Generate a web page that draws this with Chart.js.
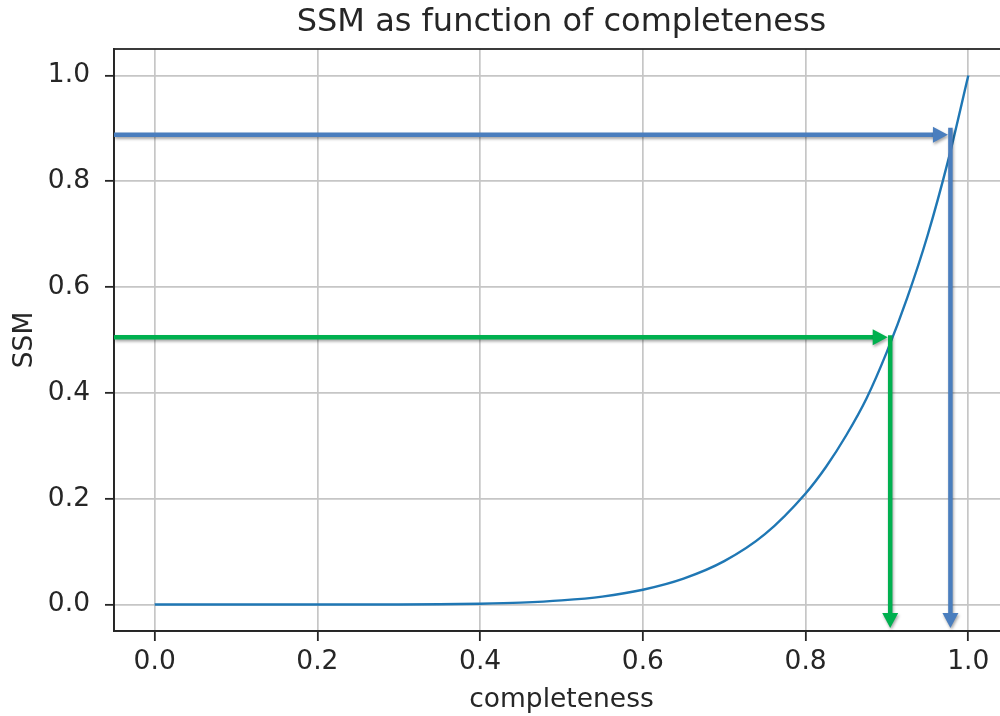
<!DOCTYPE html>
<html>
<head>
<meta charset="utf-8">
<script src="https://cdn.jsdelivr.net/npm/chart.js@4/dist/chart.umd.min.js"></script>
<style>
  html, body { margin: 0; padding: 0; background: #fff; overflow: hidden; }
  #wrap { width: 1010px; height: 716px; }
</style>
</head>
<body>
<div id="wrap"><canvas id="c" width="1010" height="716"></canvas></div>
<script>
// SSM curve sampled along completeness
const completeness = [0, 0.05, 0.1, 0.15, 0.2, 0.25, 0.3, 0.35, 0.4, 0.45, 0.5, 0.55, 0.6, 0.65, 0.7, 0.75, 0.8, 0.825, 0.85, 0.875, 0.9, 0.925, 0.95, 0.975, 1.0];
const ssm = [0, 0, 0, 0, 0, 0.0001, 0.0002, 0.0006, 0.0016, 0.0037, 0.0078, 0.015, 0.028, 0.049, 0.082, 0.133, 0.21, 0.26, 0.32, 0.39, 0.478, 0.58, 0.698, 0.838, 1.0];

// Tick values on both axes
const xTicks = [0.0, 0.2, 0.4, 0.6, 0.8, 1.0];
const yTicks = [0.0, 0.2, 0.4, 0.6, 0.8, 1.0];

// Reading guides: horizontal arrow at an SSM level, vertical arrow down at completeness
const guideCompleteness = [0.904, 0.978];
const guideSSM = [0.505, 0.888];
const guideColors = ['#00b04f', '#4a7ebe'];

const FONT = 'DejaVu Sans';
const TEXT = '#262626';
const TICK_SIZE = 26.5;

const framePlugin = {
  id: 'frame',
  afterDatasetsDraw(chart) {
    const { ctx, chartArea: a } = chart;
    ctx.save();
    ctx.strokeStyle = TEXT;
    ctx.lineWidth = 1.8;
    ctx.strokeRect(a.left, a.top, a.right - a.left, a.bottom - a.top);
    ctx.restore();
  }
};

const guidePlugin = {
  id: 'guides',
  afterDraw(chart) {
    const { ctx, chartArea: a } = chart;
    const xs = chart.scales.x, ys = chart.scales.y;
    ctx.save();
    ctx.shadowColor = 'rgba(0,0,0,0.35)';
    ctx.shadowBlur = 3;
    ctx.shadowOffsetX = 1;
    ctx.shadowOffsetY = 2;
    guideCompleteness.forEach((cv, i) => {
      const px = xs.getPixelForValue(cv);
      const py = ys.getPixelForValue(guideSSM[i]);
      const col = guideColors[i];
      const lw = 4.5, head = 15, half = 8;
      ctx.strokeStyle = col;
      ctx.fillStyle = col;
      ctx.lineWidth = lw;
      ctx.lineCap = 'butt';
      // horizontal arrow from the left edge to the curve
      const tipX = px - 2.5;
      ctx.beginPath();
      ctx.moveTo(a.left, py);
      ctx.lineTo(tipX - head + 2, py);
      ctx.stroke();
      ctx.beginPath();
      ctx.moveTo(tipX, py);
      ctx.lineTo(tipX - head, py - half);
      ctx.lineTo(tipX - head, py + half);
      ctx.closePath();
      ctx.fill();
      // vertical arrow from the curve down to the x axis
      const tipY = a.bottom - 3;
      ctx.beginPath();
      ctx.moveTo(px, py - (i === 1 ? 7 : 2));
      ctx.lineTo(px, tipY - head + 2);
      ctx.stroke();
      ctx.beginPath();
      ctx.moveTo(px, tipY);
      ctx.lineTo(px - half, tipY - head);
      ctx.lineTo(px + half, tipY - head);
      ctx.closePath();
      ctx.fill();
    });
    ctx.restore();
  }
};

new Chart(document.getElementById('c'), {
  type: 'line',
  data: {
    datasets: [{
      data: completeness.map((x, i) => ({ x: x, y: ssm[i] })),
      borderColor: '#1f77b4',
      borderWidth: 2.4,
      pointRadius: 0,
      fill: false,
      cubicInterpolationMode: 'monotone'
    }]
  },
  options: {
    responsive: false,
    animation: false,
    devicePixelRatio: 1,
    layout: { padding: { left: 0, right: 1, top: 0, bottom: 0 } },
    plugins: {
      legend: { display: false },
      tooltip: { enabled: false },
      title: {
        display: true,
        fullSize: false,
        text: 'SSM as function of completeness',
        color: TEXT,
        font: { family: FONT, size: 32, weight: 'normal' },
        padding: { top: 3, bottom: 7.6 }
      }
    },
    scales: {
      x: {
        type: 'linear',
        min: -0.05,
        max: 1.05,
        afterBuildTicks(scale) { scale.ticks = xTicks.map(v => ({ value: v })); },
        afterFit(scale) { scale.height = 85; },
        grid: { color: '#c6c6c6', lineWidth: 1.7, tickColor: TEXT, tickLength: 10, tickWidth: 1.8 },
        border: { display: true, color: TEXT, width: 1.8 },
        ticks: {
          color: TEXT,
          font: { family: FONT, size: TICK_SIZE },
          padding: 5,
          maxRotation: 0,
          callback: v => Number(v).toFixed(1)
        },
        title: {
          display: true,
          text: 'completeness',
          color: TEXT,
          font: { family: FONT, size: TICK_SIZE },
          padding: { top: 0, bottom: 0 }
        }
      },
      y: {
        type: 'linear',
        min: -0.05,
        max: 1.05,
        afterBuildTicks(scale) { scale.ticks = yTicks.map(v => ({ value: v })); },
        afterFit(scale) { scale.width = 114; },
        grid: { color: '#c6c6c6', lineWidth: 1.7, tickColor: TEXT, tickLength: 9, tickWidth: 1.8 },
        border: { display: true, color: TEXT, width: 1.8 },
        ticks: {
          color: TEXT,
          font: { family: FONT, size: TICK_SIZE },
          padding: 15,
          callback: v => Number(v).toFixed(1)
        },
        title: {
          display: true,
          text: 'SSM',
          color: TEXT,
          font: { family: FONT, size: TICK_SIZE },
          padding: { top: 9, bottom: 0 }
        }
      }
    }
  },
  plugins: [framePlugin, guidePlugin]
});
</script>
</body>
</html>
